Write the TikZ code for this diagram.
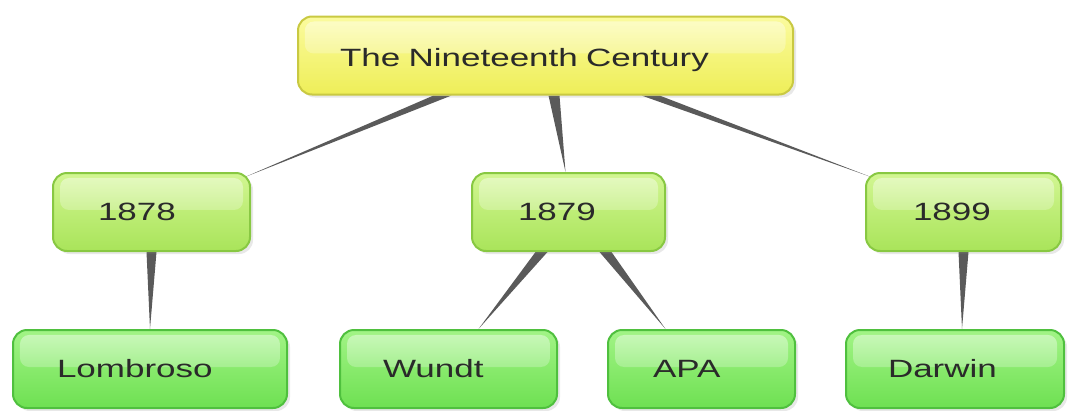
\documentclass[tikz,border=0pt]{standalone}
\usepackage{fontspec}
\setmainfont{Liberation Sans}[FakeStretch=1.4]
\usetikzlibrary{calc,shadows,fadings}
\pgfdeclarelayer{background}
\pgfsetlayers{background,main}

\definecolor{yelTop}{HTML}{FBFB9E}
\definecolor{yelBot}{HTML}{EEEE58}
\definecolor{yelLine}{HTML}{C9C942}
\definecolor{yrTop}{HTML}{D2F692}
\definecolor{yrBot}{HTML}{A9E45A}
\definecolor{yrLine}{HTML}{88C842}
\definecolor{lfTop}{HTML}{A2F486}
\definecolor{lfBot}{HTML}{6EE052}
\definecolor{lfLine}{HTML}{4FC03E}
\definecolor{wedgeGray}{HTML}{5A5A5A}
\definecolor{ink}{HTML}{2A2A2A}

% label text lowered a little inside its fixed-size box
\newcommand{\lowtext}[2]{\raisebox{-#1}[18pt][5pt]{#2}}

\tikzset{
  card/.style={rounded corners=14pt, line width=2pt, minimum height=78pt,
    inner ysep=0pt, align=left, text=ink,
    font=\fontsize{25}{28}\selectfont,
    drop shadow={opacity=0.18, shadow xshift=3pt, shadow yshift=-3pt},
    path picture={
      \fill[white, opacity=0.45, rounded corners=9pt, path fading=south]
        ($(path picture bounding box.north west)+(7,5)$) rectangle
        ($(path picture bounding box.east)+(-7,-2)$);
    }},
  topcard/.style={card, draw=yelLine, top color=yelTop, bottom color=yelBot},
  yearcard/.style={card, draw=yrLine, top color=yrTop, bottom color=yrBot},
  leafcard/.style={card, draw=lfLine, top color=lfTop, bottom color=lfBot},
  wedge/.style={fill=wedgeGray}
}

\begin{document}
\begin{tikzpicture}[x=1pt,y=-1pt]
\useasboundingbox (0,0) rectangle (1068,410);

% root
\node[topcard, inner xsep=42pt, text width=411pt] (root) at (545.5,55.5) {\lowtext{4pt}{The Nineteenth Century}};

% years
\node[yearcard, inner xsep=45pt, text width=107pt] (y1878) at (151.5,212) {\lowtext{2pt}{1878}};
\node[yearcard, inner xsep=46pt, text width=101pt] (y1879) at (568.5,212) {\lowtext{2pt}{1879}};
\node[yearcard, inner xsep=47pt, text width=101pt] (y1899) at (963.5,212) {\lowtext{2pt}{1899}};

% people and institutions
\node[leafcard, inner xsep=44pt, text width=186pt] (lombroso) at (150,369) {\lowtext{2pt}{Lombroso}};
\node[leafcard, inner xsep=43pt, text width=131pt] (wundt) at (448.5,369) {\lowtext{2pt}{Wundt}};
\node[leafcard, inner xsep=45pt, text width=97pt] (apa) at (701.5,369) {\lowtext{2pt}{APA}};
\node[leafcard, inner xsep=42pt, text width=134pt] (darwin) at (955,369) {\lowtext{2pt}{Darwin}};

% tapered connectors, wide at the parent and pointed at the child
\begin{pgfonlayer}{background}
  \fill[wedge] ($(root.south)+(-112,0)$) -- ($(root.south)+(-94,0)$)
    -- ($(y1878.north east)+(-6,5)$) -- cycle;
  \fill[wedge] ($(root.south)+(3,0)$) -- ($(root.south)+(14,0)$)
    -- ($(y1879.north)+(-3,0)$) -- cycle;
  \fill[wedge] ($(root.south)+(96,0)$) -- ($(root.south)+(114,0)$)
    -- ($(y1899.north west)+(6,5)$) -- cycle;

  \fill[wedge] ($(y1878.south)+(-5,0)$) -- ($(y1878.south)+(5,0)$)
    -- (lombroso.north) -- cycle;
  \fill[wedge] ($(y1879.south)+(-33,0)$) -- ($(y1879.south)+(-21,0)$)
    -- ($(wundt.north)+(30,0)$) -- cycle;
  \fill[wedge] ($(y1879.south)+(31,0)$) -- ($(y1879.south)+(43,0)$)
    -- ($(apa.north)+(-36,0)$) -- cycle;
  \fill[wedge] ($(y1899.south)+(-5,0)$) -- ($(y1899.south)+(5,0)$)
    -- ($(darwin.north)+(7,0)$) -- cycle;
\end{pgfonlayer}
\end{tikzpicture}
\end{document}
